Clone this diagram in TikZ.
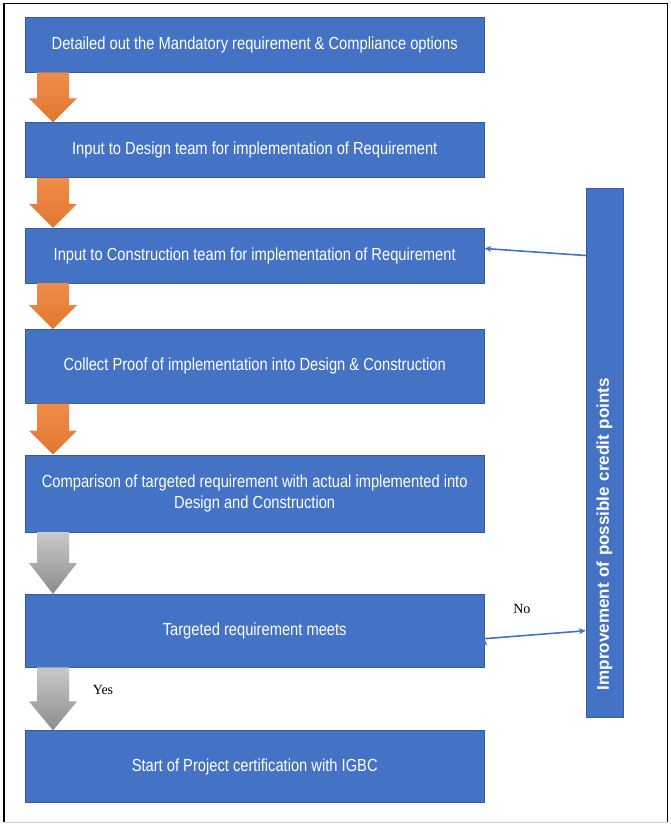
\documentclass[tikz,border=0pt]{standalone}
\usepackage{fontspec}
\setmainfont{Liberation Sans}[FakeStretch=0.84]
\newfontfamily\barfont{Liberation Sans}
\newfontfamily\notefont{Liberation Serif}
\usetikzlibrary{positioning,calc,arrows.meta}

\definecolor{boxblue}{HTML}{4472C4}
\definecolor{arrorange}{HTML}{ED7D31}
\definecolor{arrgray}{HTML}{A5A5A5}

\tikzset{
  stepbox/.style={rectangle, fill=boxblue, draw=boxblue!80!black, line width=0.4pt,
    text=white, minimum width=459pt, minimum height=55pt, inner sep=0pt,
    align=center, font=\fontsize{17.5}{20.5}\selectfont},
  barbox/.style={rectangle, fill=boxblue, draw=boxblue!80!black, line width=0.4pt,
    text=white, rotate=90, minimum width=529pt, minimum height=37pt,
    text width=475pt, inner xsep=27pt, inner ysep=0pt, align=left,
    font=\barfont\bfseries\fontsize{17}{19}\selectfont},
  link/.style={draw=boxblue, line width=1.6pt, -{Stealth[length=7pt,width=6pt]}},
  note/.style={font=\notefont\fontsize{14}{16}\selectfont, inner sep=0pt},
  orangeflow/.style={top color=arrorange!88!white, bottom color=arrorange!95!black},
  grayflow/.style={top color=arrgray!60!white, bottom color=arrgray!85!black},
}

% block arrow between two boxes
\newcommand{\flowarrow}[4]{%
  \path[#3] let \p1=($(#1.south west)+(28,0)$), \p2=($(#2.north west)+(28,0)$) in
    (\x1-16pt,\y1) -- (\x1+16pt,\y1) -- (\x1+16pt,\y2+#4) -- (\x1+24pt,\y2+#4)
    -- (\x1,\y2) -- (\x1-24pt,\y2+#4) -- (\x1-16pt,\y2+#4) -- cycle;}

\begin{document}
\begin{tikzpicture}[x=1pt,y=-1pt]
    \useasboundingbox (0,0) rectangle (670,826);
    % frame
    \draw[line width=2pt] (4,3) -- (4,822);
    \draw[line width=0.8pt] (4,3) -- (667,3) -- (667,822);
    \draw[gray!35, line width=1pt] (4,822) -- (667,822);

    \node[stepbox, anchor=north west] (b1) at (25,17)
        {Detailed out the Mandatory requirement \& Compliance options};
    \node[stepbox] (b2) [below=50pt of b1]
        {Input to Design team for implementation of Requirement};
    \node[stepbox] (b3) [below=50pt of b2]
        {Input to Construction team for implementation of Requirement};
    \node[stepbox, minimum height=74pt] (b4) [below=46pt of b3]
        {Collect Proof of implementation into Design \& Construction};
    \node[stepbox, minimum height=77pt] (b5) [below=51pt of b4]
        {Comparison of targeted requirement with actual implemented into\\Design and Construction};
    \node[stepbox, minimum height=73pt] (b6) [below=62pt of b5]
        {Targeted requirement meets};
    \node[stepbox, minimum height=72pt] (b7) [below=63pt of b6]
        {Start of Project certification with IGBC};
    \node[barbox] (b8) at (604.5,452.5) {Improvement of possible credit points};

    \flowarrow{b1}{b2}{orangeflow}{24pt}
    \flowarrow{b2}{b3}{orangeflow}{24pt}
    \flowarrow{b3}{b4}{orangeflow}{24pt}
    \flowarrow{b4}{b5}{orangeflow}{24pt}
    \flowarrow{b5}{b6}{grayflow}{31pt}
    \flowarrow{b6}{b7}{grayflow}{29pt}

    \path[link]
    (b8.north |- b3.east)   edge                                            ([yshift=7pt]b3.east)
    ([yshift=-8pt]b6.east)  edge node[note, pos=0.37, above=21pt] (no) {No} (b8.north |- b6.east);
    \node[note] (yes) at ($(b6.south west)+(78,23)$) {Yes};
\end{tikzpicture}
\end{document}
